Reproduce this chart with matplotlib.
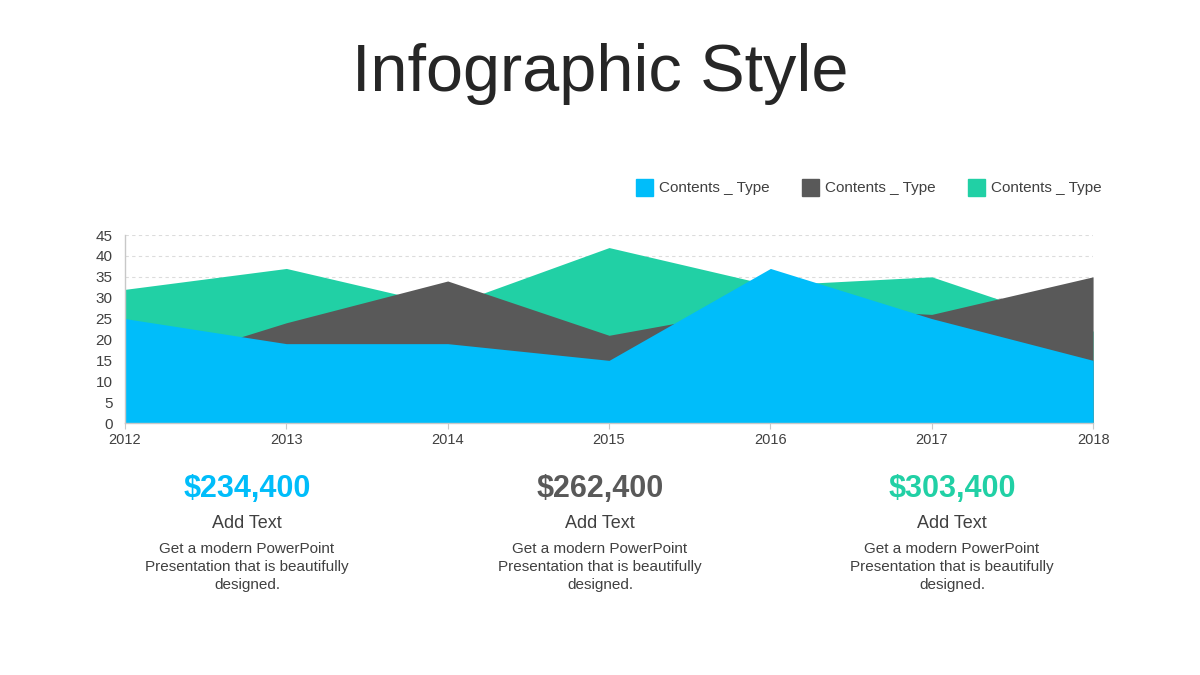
import matplotlib.pyplot as plt
from matplotlib.patches import Rectangle

plt.rcParams['font.family'] = ['Liberation Sans', 'DejaVu Sans']

years = [2012, 2013, 2014, 2015, 2016, 2017, 2018]
blue_vals = [25, 19, 19, 15, 37, 25, 15]
gray_vals = [12, 24, 34, 21, 28, 26, 35]
green_vals = [32, 37, 28, 42, 33, 35, 22]

series_names = ['Contents _ Type', 'Contents _ Type', 'Contents _ Type']
colors = ['#00BDFA', '#595959', '#21D0A5']

amounts = ['$234,400', '$262,400', '$303,400']
amount_colors = ['#00BDFA', '#595959', '#21D0A5']
sub_title = 'Add Text'
body = 'Get a modern PowerPoint\nPresentation that is beautifully\ndesigned.'

fig = plt.figure(figsize=(12, 6.75), dpi=100)
fig.patch.set_facecolor('white')

fig.text(0.5, 0.89, 'Infographic Style', ha='center', va='center',
         fontsize=48, color='#262626')

ax = fig.add_axes([0.1042, 0.3733, 0.8067, 0.2785])

# back to front: green, gray, blue
for vals, c in [(green_vals, colors[2]), (gray_vals, colors[1]), (blue_vals, colors[0])]:
    ax.fill_between(years, 0, vals, color=c, linewidth=0, zorder=2)

ax.set_xlim(years[0], years[-1])
ax.set_ylim(0, 45)
ax.set_yticks(range(0, 50, 5))
ax.set_xticks(years)
ax.yaxis.grid(True, linestyle=(0, (3, 3)), color='#dcdcdc', linewidth=0.8, zorder=0)
ax.set_axisbelow(True)

for s in ['top', 'right']:
    ax.spines[s].set_visible(False)
for s in ['left', 'bottom']:
    ax.spines[s].set_color('#c8c8c8')
    ax.spines[s].set_linewidth(1)
    ax.spines[s].set_zorder(3)

ax.tick_params(axis='y', length=0, labelsize=11, labelcolor='#404040', pad=9)
ax.tick_params(axis='x', length=4, color='#c8c8c8', labelsize=10.5,
               labelcolor='#404040', pad=3.5)

# legend
W, H = 1200, 675
leg_x = [636, 802, 968]
for x0, c, name in zip(leg_x, colors, series_names):
    fig.patches.append(Rectangle((x0 / W, 1 - 196 / H), 17 / W, 17 / H,
                                 transform=fig.transFigure, color=c))
    fig.text((x0 + 23) / W, 1 - 188 / H, name, ha='left', va='center',
             fontsize=11, color='#404040')

# bottom text blocks
centers = [247, 600, 952]
for cx, amt, ac in zip(centers, amounts, amount_colors):
    fig.text(cx / W, 1 - 489 / H, amt, ha='center', va='center',
             fontsize=22, fontweight='bold', color=ac)
    fig.text(cx / W, 1 - 524 / H, sub_title, ha='center', va='center',
             fontsize=13, color='#404040')
    fig.text(cx / W, 1 - 567 / H, body, ha='center', va='center',
             fontsize=11, color='#404040', linespacing=1.32)

fig.savefig('out.png', dpi=100)
